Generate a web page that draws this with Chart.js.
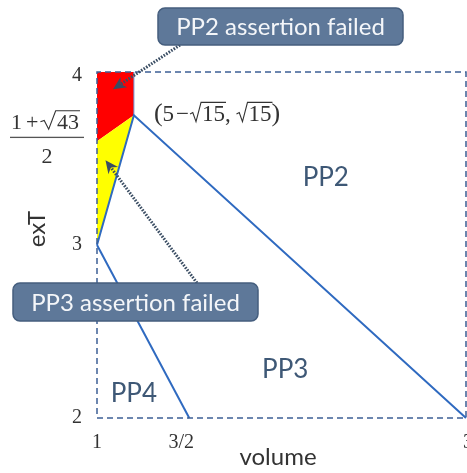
<!DOCTYPE html>
<html>
<head>
<meta charset="utf-8">
<script src="https://cdn.jsdelivr.net/npm/chart.js@4.4.1/dist/chart.umd.min.js"></script>
<style>
  html, body { margin: 0; padding: 0; background: #fff; }
  #wrap { width: 467px; height: 473px; }
</style>
</head>
<body>
<div id="wrap"><canvas id="regionChart"></canvas></div>
<script>
// axis ranges and ticks
const volumeRange = [1, 3]
const exTRange = [2, 4]
const xTicks = [1, 1.5, 3]
const xTickLabels = ['1', '3/2', '3']
const yTicks = [2, 3, 4]
const yTickLabels = ['2', '3', '4']
const fracTick = 3.62          // (1+sqrt43)/2 as placed on the picture

// regions / boundaries (volume, exT)
const cornerPoint = [1.2, 3.75]   // (5-sqrt15, sqrt15)
const redRegion = [[1, 4], [1.2, 4], [1.2, 3.75], [1, 3.6], [1, 4]]
const yellowRegion = [[1, 3.6], [1.2, 3.75], [1, 3], [1, 3.6]]
const upperBoundary = [[1, 3], [1.2, 3.75], [3, 2]]
const lowerBoundary = [[1, 3], [1.5, 2]]
const redEdge = [[1.2, 3.75], [1.2, 4]]
const boxOutline = [[1, 2], [3, 2], [3, 4], [1, 4], [1, 2]]

// labels
const regionLabels = ['PP2', 'PP3', 'PP4']
const regionLabelPos = [[2.24, 3.39], [2.02, 2.28], [1.2, 2.14]]
const calloutTexts = ['PP2 asser\u200Ction failed', 'PP3 asser\u200Ction failed']
const calloutTips = [[1.087, 3.9], [1.046, 3.49]]

const toXY = arr => arr.map(p => ({ x: p[0], y: p[1] }))

const blue = '#2f6ac0'
const sansFont = 'Lato, "Open Sans", sans-serif'
const serifFont = '"Liberation Serif", "DejaVu Serif", serif'

function drawRoot(ctx, x, baseline, text, size, k) {
  // radical sign drawn by hand, then the radicand with an overbar
  k = k || 1
  ctx.font = size + 'px ' + serifFont
  const w = ctx.measureText(text).width
  const top = baseline - size * 0.82
  const rw = size * 0.52 * k
  ctx.save()
  ctx.lineWidth = 1.1
  ctx.beginPath()
  ctx.moveTo(x, baseline - size * 0.32)
  ctx.lineTo(x + rw * 0.23, baseline - size * 0.38)
  ctx.lineTo(x + rw * 0.5, baseline + size * 0.02)
  ctx.lineTo(x + rw * 0.92, top)
  ctx.lineTo(x + rw + w + 1, top)
  ctx.stroke()
  ctx.restore()
  ctx.fillText(text, x + rw, baseline)
  return x + rw + w
}

function drawSeq(ctx, x, baseline, parts, size) {
  ctx.textAlign = 'left'
  ctx.textBaseline = 'alphabetic'
  parts.forEach(p => {
    if (p.root) {
      x = drawRoot(ctx, x, baseline, p.root, size, p.k)
    } else if (p.gap) {
      x += p.gap
    } else {
      ctx.font = (p.size || size) + 'px ' + serifFont
      ctx.fillText(p.t, x, baseline)
      x += ctx.measureText(p.t).width
    }
  })
  return x
}

function roundRect(ctx, x, y, w, h, r) {
  ctx.beginPath()
  ctx.moveTo(x + r, y)
  ctx.arcTo(x + w, y, x + w, y + h, r)
  ctx.arcTo(x + w, y + h, x, y + h, r)
  ctx.arcTo(x, y + h, x, y, r)
  ctx.arcTo(x, y, x + w, y, r)
  ctx.closePath()
}

function drawArrow(ctx, fx, fy, tx, ty) {
  const ang = Math.atan2(ty - fy, tx - fx)
  ctx.save()
  ctx.strokeStyle = '#3a4d63'
  ctx.lineWidth = 3
  ctx.setLineDash([1.6, 1.4])
  ctx.beginPath()
  ctx.moveTo(fx, fy)
  ctx.lineTo(tx - Math.cos(ang) * 6, ty - Math.sin(ang) * 6)
  ctx.stroke()
  ctx.setLineDash([])
  ctx.translate(tx, ty)
  ctx.rotate(ang)
  ctx.fillStyle = '#3a4d63'
  ctx.beginPath()
  ctx.moveTo(0, 0)
  ctx.lineTo(-13, -6)
  ctx.lineTo(-9, 0)
  ctx.lineTo(-13, 6)
  ctx.closePath()
  ctx.fill()
  ctx.restore()
}

const textPlugin = {
  id: 'textPlugin',
  afterDatasetsDraw(chart) {
    const ctx = chart.ctx
    const xs = chart.scales.x
    const ys = chart.scales.y
    ctx.save()

    // tick labels
    ctx.fillStyle = '#333'
    ctx.font = '20px ' + serifFont
    ctx.textBaseline = 'middle'
    ctx.textAlign = 'center'
    xTicks.forEach((v, i) => {
      let px = xs.getPixelForValue(v)
      if (i === 1) px -= 8
      if (i === 2) px += 2
      ctx.fillText(xTickLabels[i], px, 443)
    })
    ctx.textAlign = 'right'
    yTicks.forEach((v, i) => {
      ctx.fillText(yTickLabels[i], 82, ys.getPixelForValue(v) + (v === 4 ? 4 : 0))
    })

    // fraction (1+sqrt43)/2
    const fy = ys.getPixelForValue(fracTick)
    const numW = 74
    const fx0 = 10
    ctx.fillStyle = '#333'
    ctx.strokeStyle = '#333'
    drawSeq(ctx, fx0 + 1, fy - 9, [{ t: '1' }, { gap: 4 }, { t: '+' }, { gap: 2 }, { root: '43', k: 1.45 }], 22)
    ctx.fillStyle = '#555'
    ctx.fillRect(fx0, fy - 1, numW, 1.3)
    ctx.fillStyle = '#333'
    ctx.font = '22px ' + serifFont
    ctx.textAlign = 'center'
    ctx.fillText('2', fx0 + numW / 2, fy + 25)

    // corner point label
    const cx = xs.getPixelForValue(cornerPoint[0])
    const cy = ys.getPixelForValue(cornerPoint[1])
    drawSeq(ctx, cx + 20, cy + 6, [
      { t: '(', size: 26 }, { t: '5' }, { gap: 2 }, { t: '\u2212' }, { gap: 1 }, { root: '15' },
      { t: ', ' }, { root: '15' }, { t: ')', size: 26 }
    ], 23)

    // axis titles
    ctx.fillStyle = '#333'
    ctx.font = '24px ' + sansFont
    ctx.textAlign = 'center'
    ctx.textBaseline = 'middle'
    ctx.fillText('volume', 278, 457)
    ctx.save()
    ctx.translate(37, 229)
    ctx.rotate(-Math.PI / 2)
    ctx.fillText('exT', 0, 0)
    ctx.restore()

    // region labels
    ctx.fillStyle = '#3e5876'
    ctx.font = '26px ' + sansFont
    regionLabels.forEach((t, i) => {
      ctx.fillText(t, xs.getPixelForValue(regionLabelPos[i][0]), ys.getPixelForValue(regionLabelPos[i][1]))
    })

    // callouts
    const boxes = [[158, 8, 245, 37, 180, 45], [13, 283, 245, 38, 197, 283]]
    boxes.forEach((b, i) => {
      const tip = calloutTips[i]
      drawArrow(ctx, b[4], b[5], xs.getPixelForValue(tip[0]), ys.getPixelForValue(tip[1]))
      roundRect(ctx, b[0], b[1], b[2], b[3], 7)
      ctx.fillStyle = '#5e7899'
      ctx.fill()
      ctx.strokeStyle = '#455e7e'
      ctx.lineWidth = 1.5
      ctx.stroke()
      ctx.fillStyle = '#f4f6f9'
      ctx.font = '24px ' + sansFont
      ctx.textAlign = 'center'
      ctx.textBaseline = 'middle'
      ctx.fillText(calloutTexts[i], b[0] + b[2] / 2, b[1] + b[3] / 2 + 1)
    })

    ctx.restore()
  }
}

const ctx = document.getElementById('regionChart').getContext('2d')

const lineSet = (data, color, width, extra) => Object.assign({
  data: toXY(data),
  showLine: true,
  borderColor: color,
  borderWidth: width,
  pointRadius: 0,
  fill: false,
  clip: false,
  tension: 0
}, extra || {})

const regionChart = new Chart(ctx, {
  type: 'scatter',
  data: {
    datasets: [
      lineSet(boxOutline, '#3d5f95', 1.5, { borderDash: [6, 4] }),
      lineSet(upperBoundary, blue, 2),
      lineSet(lowerBoundary, blue, 2),
      lineSet(redEdge, '#6f8fd0', 1),
      lineSet(yellowRegion, 'rgba(0,0,0,0)', 0, { fill: 'shape', backgroundColor: '#ffff00' }),
      lineSet(redRegion, 'rgba(0,0,0,0)', 0, { fill: 'shape', backgroundColor: '#ff0000' })
    ]
  },
  options: {
    responsive: true,
    maintainAspectRatio: false,
    animation: false,
    devicePixelRatio: 1,
    layout: { padding: { left: 97, top: 72, right: 1, bottom: 55 } },
    plugins: { legend: { display: false }, tooltip: { enabled: false } },
    scales: {
      x: { type: 'linear', min: volumeRange[0], max: volumeRange[1], display: false },
      y: { type: 'linear', min: exTRange[0], max: exTRange[1], display: false }
    }
  },
  plugins: [textPlugin]
})
</script>
</body>
</html>
